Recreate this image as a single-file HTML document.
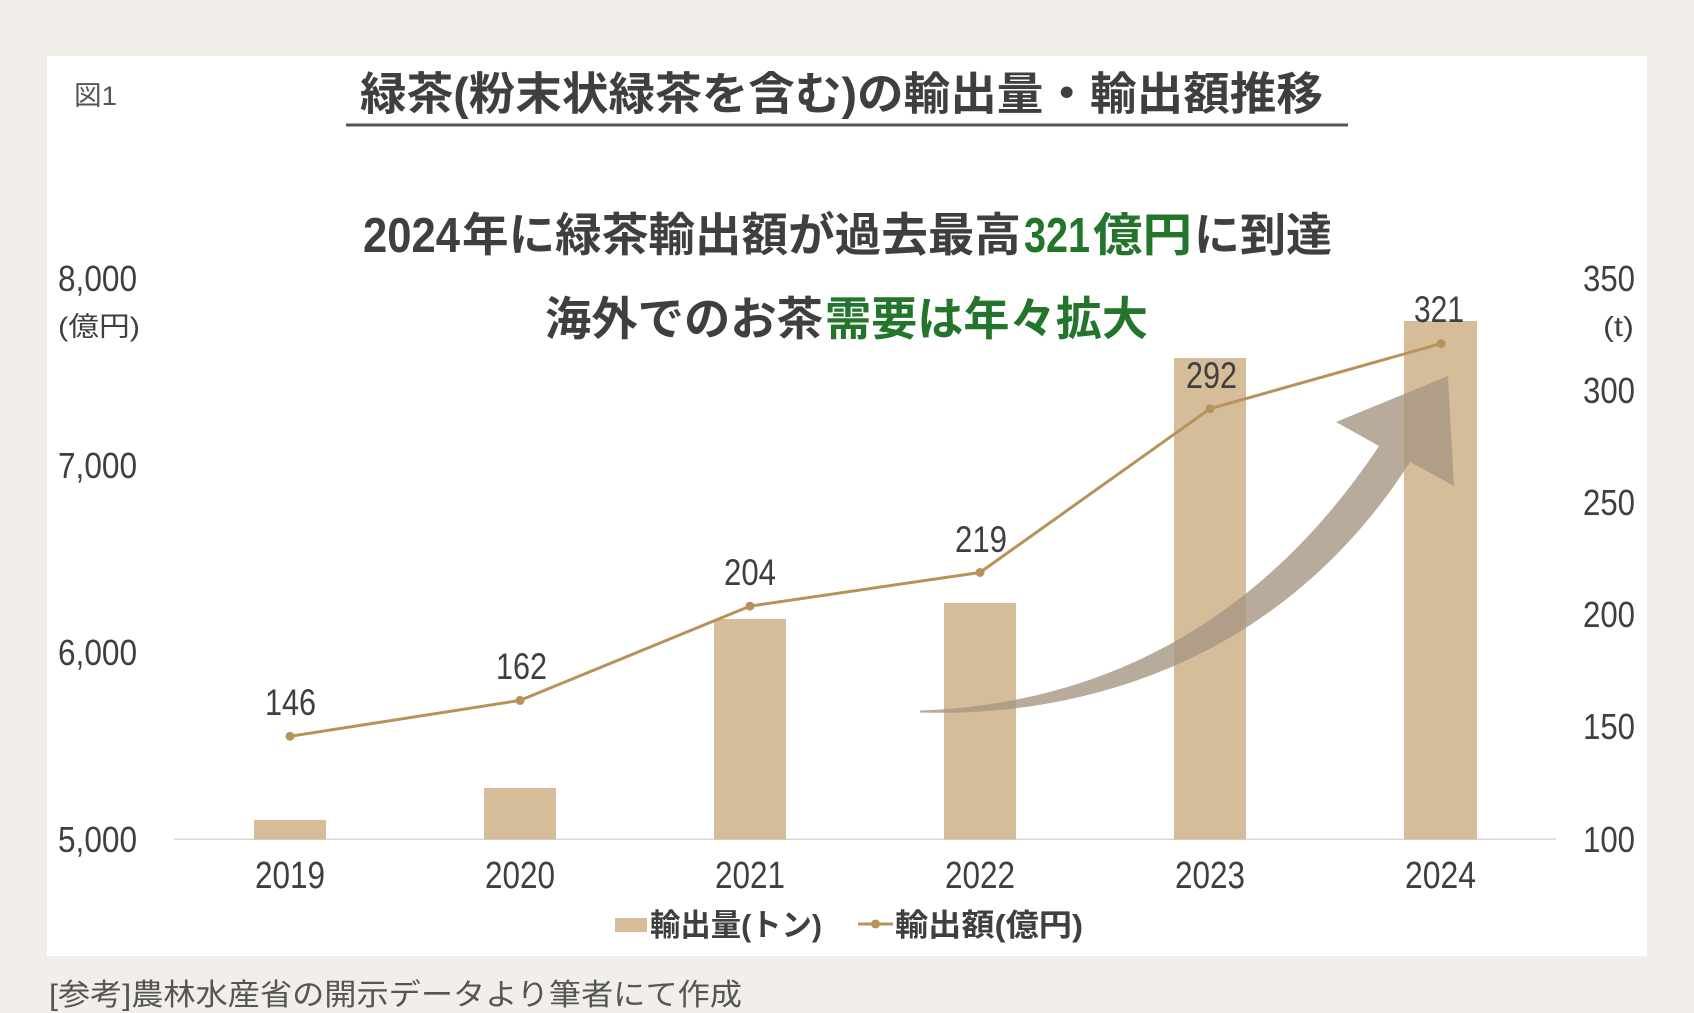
<!DOCTYPE html>
<html lang="ja">
<head>
<meta charset="utf-8">
<style>
  html, body { margin: 0; padding: 0; background: #f2efeb; }
  body { width: 1694px; height: 1013px; overflow: hidden; }
  svg { display: block; }
  text { font-family: "Liberation Sans", "Noto Sans CJK JP", sans-serif; }
</style>
</head>
<body>
<svg width="1694" height="1013" viewBox="0 0 1694 1013" xmlns="http://www.w3.org/2000/svg">
  <rect x="0" y="0" width="1694" height="1013" fill="#f2efeb"/>
  <rect x="47" y="56" width="1600" height="900" fill="#ffffff"/>

  <!-- 図1 -->
  <text x="74" y="105" font-size="27" fill="#555555" textLength="43" lengthAdjust="spacingAndGlyphs">図1</text>

  <!-- Title -->
  <text x="360" y="109.5" font-size="45" font-weight="bold" fill="#3f3f3f" textLength="963" lengthAdjust="spacingAndGlyphs">緑茶(粉末状緑茶を含む)の輸出量・輸出額推移</text>
  <rect x="346" y="123.5" width="1002" height="3" fill="#555555"/>

  <!-- Subtitle 1 -->
  <text x="363" y="252" font-size="49" font-weight="bold" fill="#3f3f3f" textLength="97" lengthAdjust="spacingAndGlyphs">2024</text>
  <text x="462" y="251" font-size="46" font-weight="bold" fill="#3f3f3f" textLength="559" lengthAdjust="spacingAndGlyphs">年に緑茶輸出額が過去最高</text>
  <text x="1024" y="252" font-size="49" font-weight="bold" fill="#23752b" textLength="66" lengthAdjust="spacingAndGlyphs">321</text>
  <text x="1093" y="251" font-size="46" font-weight="bold" fill="#23752b" textLength="99" lengthAdjust="spacingAndGlyphs">億円</text>
  <text x="1194" y="251" font-size="46" font-weight="bold" fill="#3f3f3f" textLength="138" lengthAdjust="spacingAndGlyphs">に到達</text>

  <!-- Subtitle 2 -->
  <text x="545" y="335" font-size="46" font-weight="bold" fill="#3f3f3f" textLength="278" lengthAdjust="spacingAndGlyphs">海外でのお茶</text>
  <text x="825" y="335" font-size="46" font-weight="bold" fill="#23752b" textLength="323" lengthAdjust="spacingAndGlyphs">需要は年々拡大</text>

  <!-- Left axis -->
  <g font-size="36" fill="#3f3f3f">
    <text x="58" y="291" textLength="79" lengthAdjust="spacingAndGlyphs">8,000</text>
    <text x="58" y="478" textLength="79" lengthAdjust="spacingAndGlyphs">7,000</text>
    <text x="58" y="665" textLength="79" lengthAdjust="spacingAndGlyphs">6,000</text>
    <text x="58" y="852" textLength="79" lengthAdjust="spacingAndGlyphs">5,000</text>
  </g>
  <text x="58" y="336" font-size="27" fill="#3f3f3f" textLength="82" lengthAdjust="spacingAndGlyphs">(億円)</text>

  <!-- Right axis -->
  <g font-size="36" fill="#3f3f3f">
    <text x="1583" y="291" textLength="52" lengthAdjust="spacingAndGlyphs">350</text>
    <text x="1583" y="403" textLength="52" lengthAdjust="spacingAndGlyphs">300</text>
    <text x="1583" y="515" textLength="52" lengthAdjust="spacingAndGlyphs">250</text>
    <text x="1583" y="627" textLength="52" lengthAdjust="spacingAndGlyphs">200</text>
    <text x="1583" y="739" textLength="52" lengthAdjust="spacingAndGlyphs">150</text>
    <text x="1583" y="852" textLength="52" lengthAdjust="spacingAndGlyphs">100</text>
  </g>
  <text x="1603" y="336" font-size="28" fill="#3f3f3f" textLength="31" lengthAdjust="spacingAndGlyphs">(t)</text>

  <!-- Baseline -->
  <rect x="174" y="838.5" width="1382" height="1.5" fill="#d9d9d9"/>

  <!-- Bars -->
  <g fill="#d5bd9a">
    <rect x="254" y="820" width="72" height="19.5"/>
    <rect x="484" y="788" width="72" height="51.5"/>
    <rect x="714" y="619" width="72" height="220.5"/>
    <rect x="944" y="603" width="72" height="236.5"/>
    <rect x="1174" y="358" width="72" height="481.5"/>
    <rect x="1404" y="321" width="73" height="518.5"/>
  </g>

  <!-- Curved arrow -->
  <path d="M 920 710.5 C 1080 705, 1250 640, 1379 446 L 1336 422 L 1448 376 L 1454 486 L 1410 462 C 1290 650, 1100 718, 920 712.5 Z" fill="#a69683" fill-opacity="0.8"/>

  <!-- Line series -->
  <polyline points="290,736.3 520,700.4 750,606.1 980,572.5 1210,408.7 1441,343.6" fill="none" stroke="#b8925a" stroke-width="3" stroke-linejoin="round"/>
  <g fill="#b8925a">
    <circle cx="290" cy="736.3" r="4.5"/>
    <circle cx="520" cy="700.4" r="4.5"/>
    <circle cx="750" cy="606.1" r="4.5"/>
    <circle cx="980" cy="572.5" r="4.5"/>
    <circle cx="1210" cy="408.7" r="4.5"/>
    <circle cx="1441" cy="343.6" r="4.5"/>
  </g>

  <!-- Data labels -->
  <g font-size="37" fill="#3f3f3f">
    <text x="265" y="715" textLength="51" lengthAdjust="spacingAndGlyphs">146</text>
    <text x="496" y="679" textLength="51" lengthAdjust="spacingAndGlyphs">162</text>
    <text x="724" y="585" textLength="52" lengthAdjust="spacingAndGlyphs">204</text>
    <text x="955" y="552" textLength="52" lengthAdjust="spacingAndGlyphs">219</text>
    <text x="1186" y="388" textLength="51" lengthAdjust="spacingAndGlyphs">292</text>
    <text x="1414" y="322" textLength="50" lengthAdjust="spacingAndGlyphs">321</text>
  </g>

  <!-- X labels -->
  <g font-size="38" fill="#3f3f3f">
    <text x="255" y="888" textLength="70" lengthAdjust="spacingAndGlyphs">2019</text>
    <text x="485" y="888" textLength="70" lengthAdjust="spacingAndGlyphs">2020</text>
    <text x="715" y="888" textLength="70" lengthAdjust="spacingAndGlyphs">2021</text>
    <text x="945" y="888" textLength="70" lengthAdjust="spacingAndGlyphs">2022</text>
    <text x="1175" y="888" textLength="70" lengthAdjust="spacingAndGlyphs">2023</text>
    <text x="1405" y="888" textLength="71" lengthAdjust="spacingAndGlyphs">2024</text>
  </g>

  <!-- Legend -->
  <rect x="615" y="918" width="32" height="14" fill="#d5bd9a"/>
  <text x="650" y="936" font-size="31" font-weight="bold" fill="#3f3f3f" textLength="172" lengthAdjust="spacingAndGlyphs">輸出量(トン)</text>
  <rect x="858" y="922.5" width="35" height="3" fill="#b8925a"/>
  <circle cx="875.5" cy="924" r="4.5" fill="#b8925a"/>
  <text x="895" y="936" font-size="31" font-weight="bold" fill="#3f3f3f" textLength="188" lengthAdjust="spacingAndGlyphs">輸出額(億円)</text>

  <!-- Footer -->
  <text x="49" y="1005" font-size="30" fill="#555555" textLength="693" lengthAdjust="spacingAndGlyphs">[参考]農林水産省の開示データより筆者にて作成</text>
</svg>
</body>
</html>
